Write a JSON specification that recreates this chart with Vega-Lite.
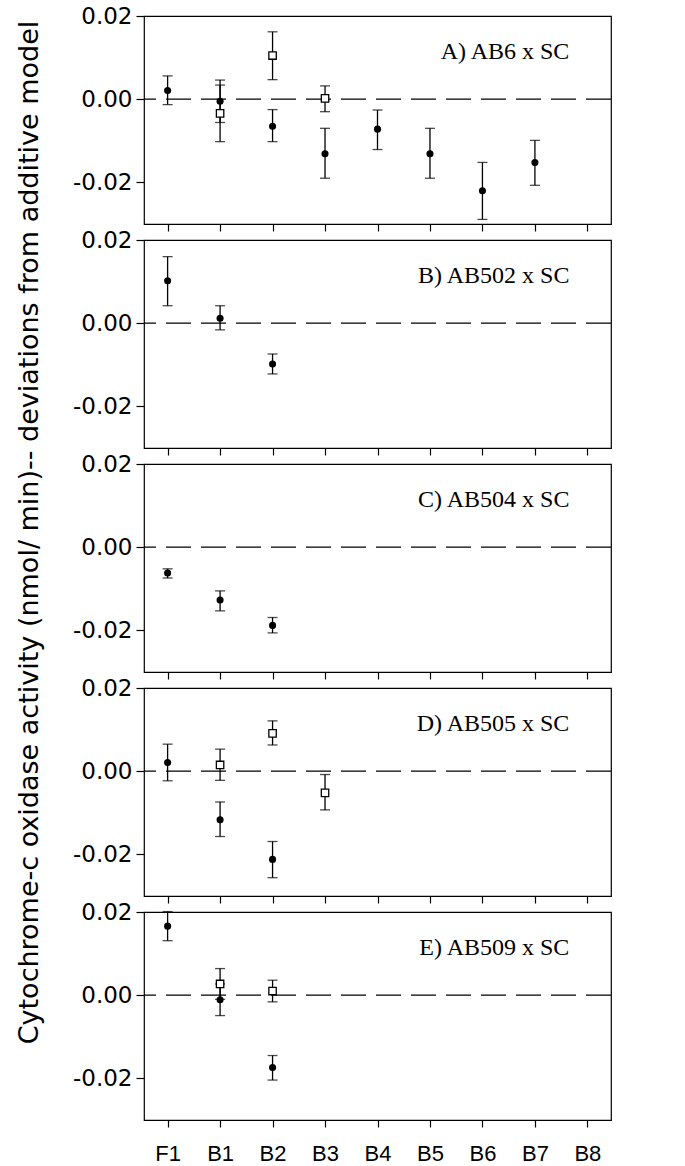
{
  "$schema": "https://vega.github.io/schema/vega-lite/v6.json",
  "padding": {"left": 14, "top": 4, "right": 5, "bottom": 5},
  "background": "white",
  "bounds": "flush",
  "datasets": {
    "pts": [
      {"panel": "A", "gen": "F1", "type": "F", "y": 0.0021, "lo": -0.0013, "hi": 0.0056},
      {"panel": "A", "gen": "B1", "type": "F", "y": -0.0005, "lo": -0.0056, "hi": 0.0046},
      {"panel": "A", "gen": "B1", "type": "S", "y": -0.0034, "lo": -0.0102, "hi": 0.0034},
      {"panel": "A", "gen": "B2", "type": "S", "y": 0.0105, "lo": 0.0047, "hi": 0.0162},
      {"panel": "A", "gen": "B2", "type": "F", "y": -0.0065, "lo": -0.0102, "hi": -0.0025},
      {"panel": "A", "gen": "B3", "type": "S", "y": 0.0002, "lo": -0.003, "hi": 0.0032},
      {"panel": "A", "gen": "B3", "type": "F", "y": -0.0131, "lo": -0.019, "hi": -0.007},
      {"panel": "A", "gen": "B4", "type": "F", "y": -0.0072, "lo": -0.0121, "hi": -0.0026},
      {"panel": "A", "gen": "B5", "type": "F", "y": -0.0131, "lo": -0.019, "hi": -0.007},
      {"panel": "A", "gen": "B6", "type": "F", "y": -0.022, "lo": -0.0289, "hi": -0.0152},
      {"panel": "A", "gen": "B7", "type": "F", "y": -0.0152, "lo": -0.0207, "hi": -0.0099},
      {"panel": "B", "gen": "F1", "type": "F", "y": 0.0102, "lo": 0.0042, "hi": 0.016},
      {"panel": "B", "gen": "B1", "type": "F", "y": 0.0012, "lo": -0.0016, "hi": 0.0042},
      {"panel": "B", "gen": "B2", "type": "F", "y": -0.0098, "lo": -0.0122, "hi": -0.0074},
      {"panel": "C", "gen": "F1", "type": "F", "y": -0.0062, "lo": -0.0074, "hi": -0.0052},
      {"panel": "C", "gen": "B1", "type": "F", "y": -0.0127, "lo": -0.0153, "hi": -0.0105},
      {"panel": "C", "gen": "B2", "type": "F", "y": -0.0188, "lo": -0.0206, "hi": -0.0169},
      {"panel": "D", "gen": "F1", "type": "F", "y": 0.0021, "lo": -0.0023, "hi": 0.0065},
      {"panel": "D", "gen": "B1", "type": "S", "y": 0.0015, "lo": -0.0022, "hi": 0.0053},
      {"panel": "D", "gen": "B1", "type": "F", "y": -0.0117, "lo": -0.0157, "hi": -0.0074},
      {"panel": "D", "gen": "B2", "type": "S", "y": 0.0091, "lo": 0.0063, "hi": 0.0121},
      {"panel": "D", "gen": "B2", "type": "F", "y": -0.0212, "lo": -0.0256, "hi": -0.0169},
      {"panel": "D", "gen": "B3", "type": "S", "y": -0.0052, "lo": -0.0093, "hi": -0.0008},
      {"panel": "E", "gen": "F1", "type": "F", "y": 0.0166, "lo": 0.0131, "hi": 0.0201},
      {"panel": "E", "gen": "B1", "type": "S", "y": 0.0027, "lo": -0.001, "hi": 0.0064},
      {"panel": "E", "gen": "B1", "type": "F", "y": -0.0011, "lo": -0.0049, "hi": 0.0027},
      {"panel": "E", "gen": "B2", "type": "S", "y": 0.001, "lo": -0.0016, "hi": 0.0036},
      {"panel": "E", "gen": "B2", "type": "F", "y": -0.0174, "lo": -0.0204, "hi": -0.0145}
    ],
    "labels": [
      {"panel": "A", "label": "A) AB6 x SC"},
      {"panel": "B", "label": "B) AB502 x SC"},
      {"panel": "C", "label": "C) AB504 x SC"},
      {"panel": "D", "label": "D) AB505 x SC"},
      {"panel": "E", "label": "E) AB509 x SC"}
    ]
  },
  "vconcat": [
    {
      "width": 467, "height": 208,
      "layer": [
        {"data": {"name": "pts"}, "transform": [{"filter": "datum.panel == 'A'"}], "mark": {"type": "rule", "color": "black", "strokeWidth": 1.3},
         "encoding": {"x": {"field": "gen", "type": "nominal", "scale": {"type": "point", "domain": ["F1","B1","B2","B3","B4","B5","B6","B7","B8"], "padding": 0.45}, "axis": {"labels": false, "title": null}},
                      "y": {"field": "lo", "type": "quantitative", "scale": {"domain": [-0.03, 0.02], "nice": false, "zero": false}, "axis": {"title": null, "values": [-0.02, 0, 0.02], "labelExpr": "replace(format(datum.value, '.2f'), '\u2212', '-')"}},
                      "y2": {"field": "hi"}}},
        {"data": {"name": "pts"}, "transform": [{"filter": "datum.panel == 'A'"}], "mark": {"type": "tick", "color": "black", "thickness": 1.3, "size": 10, "orient": "horizontal"},
         "encoding": {"x": {"field": "gen", "type": "nominal"}, "y": {"field": "lo", "type": "quantitative"}}},
        {"data": {"name": "pts"}, "transform": [{"filter": "datum.panel == 'A'"}], "mark": {"type": "tick", "color": "black", "thickness": 1.3, "size": 10, "orient": "horizontal"},
         "encoding": {"x": {"field": "gen", "type": "nominal"}, "y": {"field": "hi", "type": "quantitative"}}},
        {"data": {"values": [{}]}, "mark": {"type": "rule", "color": "black", "strokeWidth": 1.3, "strokeDash": [25, 10]},
         "encoding": {"y": {"datum": 0, "type": "quantitative"}}},
        {"data": {"name": "pts"}, "transform": [{"filter": "datum.panel == 'A' && datum.type == 'F'"}], "mark": {"type": "point", "shape": "circle", "filled": true, "color": "black", "size": 50, "opacity": 1},
         "encoding": {"x": {"field": "gen", "type": "nominal"}, "y": {"field": "y", "type": "quantitative"}}},
        {"data": {"name": "pts"}, "transform": [{"filter": "datum.panel == 'A' && datum.type == 'S'"}], "mark": {"type": "point", "shape": "square", "filled": true, "fill": "white", "stroke": "black", "strokeWidth": 1.3, "size": 55, "opacity": 1},
         "encoding": {"x": {"field": "gen", "type": "nominal"}, "y": {"field": "y", "type": "quantitative"}}},
        {"data": {"name": "labels"}, "transform": [{"filter": "datum.panel == 'A'"}], "mark": {"type": "text", "align": "right", "baseline": "middle", "dx": -18, "font": "Liberation Serif", "fontSize": 24, "color": "black"},
         "encoding": {"x": {"datum": "B8", "type": "nominal"}, "y": {"datum": 0.0114, "type": "quantitative"}, "text": {"field": "label"}}}
      ]
    },
    {
      "width": 467, "height": 208,
      "layer": [
        {"data": {"name": "pts"}, "transform": [{"filter": "datum.panel == 'B'"}], "mark": {"type": "rule", "color": "black", "strokeWidth": 1.3},
         "encoding": {"x": {"field": "gen", "type": "nominal", "scale": {"type": "point", "domain": ["F1","B1","B2","B3","B4","B5","B6","B7","B8"], "padding": 0.45}, "axis": {"labels": false, "title": null}},
                      "y": {"field": "lo", "type": "quantitative", "scale": {"domain": [-0.03, 0.02], "nice": false, "zero": false}, "axis": {"title": null, "values": [-0.02, 0, 0.02], "labelExpr": "replace(format(datum.value, '.2f'), '\u2212', '-')"}},
                      "y2": {"field": "hi"}}},
        {"data": {"name": "pts"}, "transform": [{"filter": "datum.panel == 'B'"}], "mark": {"type": "tick", "color": "black", "thickness": 1.3, "size": 10, "orient": "horizontal"},
         "encoding": {"x": {"field": "gen", "type": "nominal"}, "y": {"field": "lo", "type": "quantitative"}}},
        {"data": {"name": "pts"}, "transform": [{"filter": "datum.panel == 'B'"}], "mark": {"type": "tick", "color": "black", "thickness": 1.3, "size": 10, "orient": "horizontal"},
         "encoding": {"x": {"field": "gen", "type": "nominal"}, "y": {"field": "hi", "type": "quantitative"}}},
        {"data": {"values": [{}]}, "mark": {"type": "rule", "color": "black", "strokeWidth": 1.3, "strokeDash": [25, 10]},
         "encoding": {"y": {"datum": 0, "type": "quantitative"}}},
        {"data": {"name": "pts"}, "transform": [{"filter": "datum.panel == 'B' && datum.type == 'F'"}], "mark": {"type": "point", "shape": "circle", "filled": true, "color": "black", "size": 50, "opacity": 1},
         "encoding": {"x": {"field": "gen", "type": "nominal"}, "y": {"field": "y", "type": "quantitative"}}},
        {"data": {"name": "labels"}, "transform": [{"filter": "datum.panel == 'B'"}], "mark": {"type": "text", "align": "right", "baseline": "middle", "dx": -18, "font": "Liberation Serif", "fontSize": 24, "color": "black"},
         "encoding": {"x": {"datum": "B8", "type": "nominal"}, "y": {"datum": 0.0114, "type": "quantitative"}, "text": {"field": "label"}}}
      ]
    },
    {
      "width": 467, "height": 208,
      "layer": [
        {"data": {"name": "pts"}, "transform": [{"filter": "datum.panel == 'C'"}], "mark": {"type": "rule", "color": "black", "strokeWidth": 1.3},
         "encoding": {"x": {"field": "gen", "type": "nominal", "scale": {"type": "point", "domain": ["F1","B1","B2","B3","B4","B5","B6","B7","B8"], "padding": 0.45}, "axis": {"labels": false, "title": null}},
                      "y": {"field": "lo", "type": "quantitative", "scale": {"domain": [-0.03, 0.02], "nice": false, "zero": false},
                            "axis": {"values": [-0.02, 0, 0.02], "labelExpr": "replace(format(datum.value, '.2f'), '\u2212', '-')", "title": "Cytochrome-c oxidase activity (nmol/ min)-- deviations from additive model", "titleFont": "DejaVu Sans", "titleFontSize": 27, "titleFontWeight": "normal", "titleColor": "black", "titleAngle": -90, "titleAlign": "center", "titleBaseline": "middle", "titleX": -115, "titleY": 68}},
                      "y2": {"field": "hi"}}},
        {"data": {"name": "pts"}, "transform": [{"filter": "datum.panel == 'C'"}], "mark": {"type": "tick", "color": "black", "thickness": 1.3, "size": 10, "orient": "horizontal"},
         "encoding": {"x": {"field": "gen", "type": "nominal"}, "y": {"field": "lo", "type": "quantitative"}}},
        {"data": {"name": "pts"}, "transform": [{"filter": "datum.panel == 'C'"}], "mark": {"type": "tick", "color": "black", "thickness": 1.3, "size": 10, "orient": "horizontal"},
         "encoding": {"x": {"field": "gen", "type": "nominal"}, "y": {"field": "hi", "type": "quantitative"}}},
        {"data": {"values": [{}]}, "mark": {"type": "rule", "color": "black", "strokeWidth": 1.3, "strokeDash": [25, 10]},
         "encoding": {"y": {"datum": 0, "type": "quantitative"}}},
        {"data": {"name": "pts"}, "transform": [{"filter": "datum.panel == 'C' && datum.type == 'F'"}], "mark": {"type": "point", "shape": "circle", "filled": true, "color": "black", "size": 50, "opacity": 1},
         "encoding": {"x": {"field": "gen", "type": "nominal"}, "y": {"field": "y", "type": "quantitative"}}},
        {"data": {"name": "labels"}, "transform": [{"filter": "datum.panel == 'C'"}], "mark": {"type": "text", "align": "right", "baseline": "middle", "dx": -18, "font": "Liberation Serif", "fontSize": 24, "color": "black"},
         "encoding": {"x": {"datum": "B8", "type": "nominal"}, "y": {"datum": 0.0114, "type": "quantitative"}, "text": {"field": "label"}}}
      ]
    },
    {
      "width": 467, "height": 208,
      "layer": [
        {"data": {"name": "pts"}, "transform": [{"filter": "datum.panel == 'D'"}], "mark": {"type": "rule", "color": "black", "strokeWidth": 1.3},
         "encoding": {"x": {"field": "gen", "type": "nominal", "scale": {"type": "point", "domain": ["F1","B1","B2","B3","B4","B5","B6","B7","B8"], "padding": 0.45}, "axis": {"labels": false, "title": null}},
                      "y": {"field": "lo", "type": "quantitative", "scale": {"domain": [-0.03, 0.02], "nice": false, "zero": false}, "axis": {"title": null, "values": [-0.02, 0, 0.02], "labelExpr": "replace(format(datum.value, '.2f'), '\u2212', '-')"}},
                      "y2": {"field": "hi"}}},
        {"data": {"name": "pts"}, "transform": [{"filter": "datum.panel == 'D'"}], "mark": {"type": "tick", "color": "black", "thickness": 1.3, "size": 10, "orient": "horizontal"},
         "encoding": {"x": {"field": "gen", "type": "nominal"}, "y": {"field": "lo", "type": "quantitative"}}},
        {"data": {"name": "pts"}, "transform": [{"filter": "datum.panel == 'D'"}], "mark": {"type": "tick", "color": "black", "thickness": 1.3, "size": 10, "orient": "horizontal"},
         "encoding": {"x": {"field": "gen", "type": "nominal"}, "y": {"field": "hi", "type": "quantitative"}}},
        {"data": {"values": [{}]}, "mark": {"type": "rule", "color": "black", "strokeWidth": 1.3, "strokeDash": [25, 10]},
         "encoding": {"y": {"datum": 0, "type": "quantitative"}}},
        {"data": {"name": "pts"}, "transform": [{"filter": "datum.panel == 'D' && datum.type == 'F'"}], "mark": {"type": "point", "shape": "circle", "filled": true, "color": "black", "size": 50, "opacity": 1},
         "encoding": {"x": {"field": "gen", "type": "nominal"}, "y": {"field": "y", "type": "quantitative"}}},
        {"data": {"name": "pts"}, "transform": [{"filter": "datum.panel == 'D' && datum.type == 'S'"}], "mark": {"type": "point", "shape": "square", "filled": true, "fill": "white", "stroke": "black", "strokeWidth": 1.3, "size": 55, "opacity": 1},
         "encoding": {"x": {"field": "gen", "type": "nominal"}, "y": {"field": "y", "type": "quantitative"}}},
        {"data": {"name": "labels"}, "transform": [{"filter": "datum.panel == 'D'"}], "mark": {"type": "text", "align": "right", "baseline": "middle", "dx": -18, "font": "Liberation Serif", "fontSize": 24, "color": "black"},
         "encoding": {"x": {"datum": "B8", "type": "nominal"}, "y": {"datum": 0.0114, "type": "quantitative"}, "text": {"field": "label"}}}
      ]
    },
    {
      "width": 467, "height": 208,
      "layer": [
        {"data": {"name": "pts"}, "transform": [{"filter": "datum.panel == 'E'"}], "mark": {"type": "rule", "color": "black", "strokeWidth": 1.3},
         "encoding": {"x": {"field": "gen", "type": "nominal", "scale": {"type": "point", "domain": ["F1","B1","B2","B3","B4","B5","B6","B7","B8"], "padding": 0.45}, "axis": {"labels": true, "title": null, "labelAngle": 0, "labelFont": "Liberation Sans", "labelFontSize": 22, "labelPadding": 16, "labelBaseline": "top"}},
                      "y": {"field": "lo", "type": "quantitative", "scale": {"domain": [-0.03, 0.02], "nice": false, "zero": false}, "axis": {"title": null, "values": [-0.02, 0, 0.02], "labelExpr": "replace(format(datum.value, '.2f'), '\u2212', '-')"}},
                      "y2": {"field": "hi"}}},
        {"data": {"name": "pts"}, "transform": [{"filter": "datum.panel == 'E'"}], "mark": {"type": "tick", "color": "black", "thickness": 1.3, "size": 10, "orient": "horizontal"},
         "encoding": {"x": {"field": "gen", "type": "nominal"}, "y": {"field": "lo", "type": "quantitative"}}},
        {"data": {"name": "pts"}, "transform": [{"filter": "datum.panel == 'E'"}], "mark": {"type": "tick", "color": "black", "thickness": 1.3, "size": 10, "orient": "horizontal"},
         "encoding": {"x": {"field": "gen", "type": "nominal"}, "y": {"field": "hi", "type": "quantitative"}}},
        {"data": {"values": [{}]}, "mark": {"type": "rule", "color": "black", "strokeWidth": 1.3, "strokeDash": [25, 10]},
         "encoding": {"y": {"datum": 0, "type": "quantitative"}}},
        {"data": {"name": "pts"}, "transform": [{"filter": "datum.panel == 'E' && datum.type == 'F'"}], "mark": {"type": "point", "shape": "circle", "filled": true, "color": "black", "size": 50, "opacity": 1},
         "encoding": {"x": {"field": "gen", "type": "nominal"}, "y": {"field": "y", "type": "quantitative"}}},
        {"data": {"name": "pts"}, "transform": [{"filter": "datum.panel == 'E' && datum.type == 'S'"}], "mark": {"type": "point", "shape": "square", "filled": true, "fill": "white", "stroke": "black", "strokeWidth": 1.3, "size": 55, "opacity": 1},
         "encoding": {"x": {"field": "gen", "type": "nominal"}, "y": {"field": "y", "type": "quantitative"}}},
        {"data": {"name": "labels"}, "transform": [{"filter": "datum.panel == 'E'"}], "mark": {"type": "text", "align": "right", "baseline": "middle", "dx": -18, "font": "Liberation Serif", "fontSize": 24, "color": "black"},
         "encoding": {"x": {"datum": "B8", "type": "nominal"}, "y": {"datum": 0.0114, "type": "quantitative"}, "text": {"field": "label"}}}
      ]
    }
  ],
  "spacing": 16,
  "config": {
    "view": {"stroke": "black", "strokeWidth": 1.2},
    "axis": {"domain": false, "grid": false, "ticks": true, "tickColor": "black", "tickWidth": 1.2, "labelColor": "black"},
    "axisX": {"tickSize": 7, "labelFont": "Liberation Sans", "labelFontSize": 22},
    "axisY": {"tickSize": 8, "labelPadding": 4, "labelFont": "DejaVu Sans", "labelFontSize": 23}
  }
}
